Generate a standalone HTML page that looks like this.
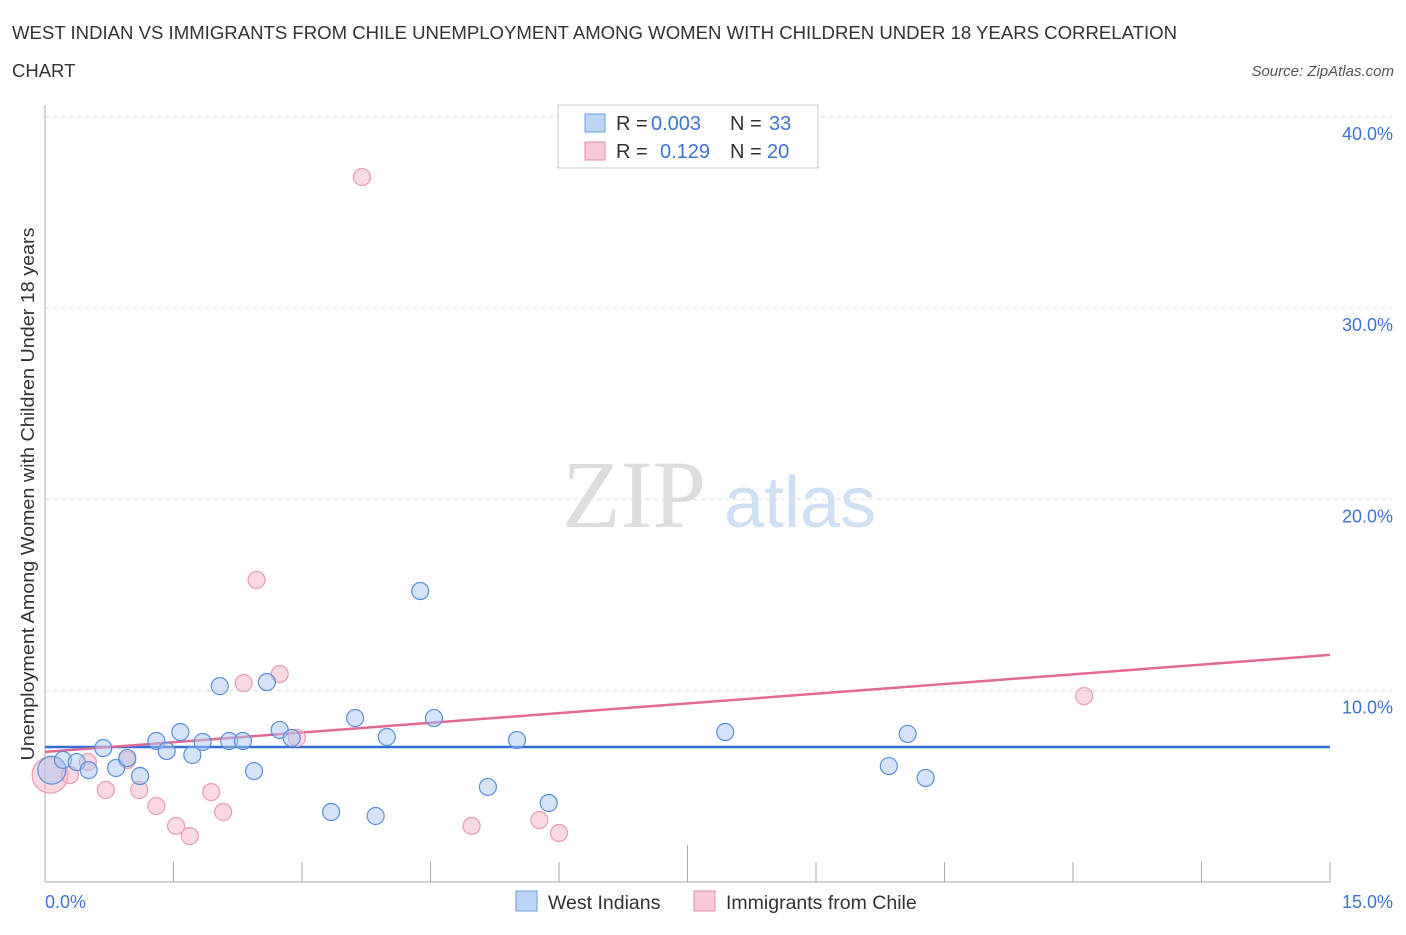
<!DOCTYPE html>
<html><head><meta charset="utf-8"><style>
body{margin:0;background:#fff;font-family:"Liberation Sans",sans-serif;}
svg text{font-family:"Liberation Sans",sans-serif;}
</style></head><body>
<svg width="1406" height="930" id="c">
<text x="12" y="39" font-size="18.5" fill="#333" textLength="1165" lengthAdjust="spacingAndGlyphs">WEST INDIAN VS IMMIGRANTS FROM CHILE UNEMPLOYMENT AMONG WOMEN WITH CHILDREN UNDER 18 YEARS CORRELATION</text>
<text x="12" y="77" font-size="18.5" fill="#333">CHART</text>
<text x="1394" y="76" font-size="15" fill="#555" font-style="italic" text-anchor="end">Source: ZipAtlas.com</text>
<text x="634" y="527" font-size="96" fill="#ddd" style="font-family:'Liberation Serif',serif" text-anchor="middle">ZIP</text>
<text x="800" y="527" font-size="72" fill="#cfe0f5" text-anchor="middle">atlas</text>
<g id="grid"></g>
<line x1="45" y1="105" x2="45" y2="882" stroke="#aaa"/>
<line x1="45" y1="882" x2="1330" y2="882" stroke="#aaa"/>
<g id="ticks"></g>
<text x="45" y="908" font-size="18" fill="#3b74d1">0.0%</text>
<text x="1393" y="908" font-size="18" fill="#3b74d1" text-anchor="end">15.0%</text>
<text transform="translate(34,494) rotate(-90)" font-size="18.5" fill="#333" text-anchor="middle" textLength="533" lengthAdjust="spacingAndGlyphs">Unemployment Among Women with Children Under 18 years</text>
<g id="lines"></g>
<g id="pts"></g>
<g>
<rect x="558" y="105" width="260" height="63" fill="#fff" stroke="#ccc"/>
<rect x="585" y="114" width="20" height="18" fill="#bcd5f5" stroke="#6a9be0"/>
<rect x="585" y="142" width="20" height="18" fill="#f9c9d8" stroke="#e58aa8"/>
<text x="616" y="130" font-size="20" fill="#333">R = <tspan fill="#3b74d1" x="651">0.003</tspan><tspan x="730">N = </tspan><tspan fill="#3b74d1" x="769">33</tspan></text>
<text x="616" y="158" font-size="20" fill="#333">R = <tspan fill="#3b74d1" x="660">0.129</tspan><tspan x="730">N = </tspan><tspan fill="#3b74d1" x="767">20</tspan></text>
</g>
<g>
<rect x="516" y="891" width="21" height="20" fill="#bcd5f5" stroke="#6a9be0"/>
<text x="548" y="909" font-size="19.5" fill="#333">West Indians</text>
<rect x="694" y="891" width="21" height="20" fill="#f9c9d8" stroke="#e58aa8"/>
<text x="726" y="909" font-size="19.5" fill="#333">Immigrants from Chile</text>
</g>
</svg>
<script>
const yTicks=[10,20,30,40];
const yTickLabels=["10.0%","20.0%","30.0%","40.0%"];
const blueX=[0.08,0.21,0.37,0.51,0.68,0.83,0.96,1.11,1.30,1.42,1.58,1.72,1.84,2.04,2.15,2.31,2.44,2.59,2.74,2.88,3.34,3.62,3.86,3.99,4.38,4.54,5.17,5.51,5.88,7.94,9.85,10.07,10.28];
const blueY=[5.85,6.38,6.27,5.85,7.0,5.96,6.48,5.54,7.37,6.85,7.84,6.64,7.32,10.24,7.37,7.37,5.8,10.45,7.95,7.53,3.66,8.57,3.45,7.58,15.21,8.57,4.97,7.42,4.13,7.84,6.06,7.74,5.44];
const pinkX=[0.06,0.29,0.50,0.71,0.96,1.10,1.30,1.53,1.69,1.94,2.08,2.32,2.47,2.74,2.94,3.70,4.98,5.77,6.0,12.13];
const pinkY=[5.59,5.59,6.27,4.81,6.38,4.81,3.97,2.93,2.4,4.7,3.66,10.4,15.79,10.87,7.53,36.85,2.93,3.24,2.56,9.72];
const blueTrend=[7.06,7.06];
const pinkTrend=[6.8,11.87];
const xs=v=>45+v*1285/15;
const ys=v=>882-v*19.13;
const NS="http://www.w3.org/2000/svg";
function mk(t,a,p){const e=document.createElementNS(NS,t);for(const k in a)e.setAttribute(k,a[k]);p.appendChild(e);return e;}
const grid=document.getElementById('grid');
yTicks.forEach((v,i)=>{
 const l=mk('line',{x1:45,x2:1392,y1:ys(v),y2:ys(v),stroke:'#ddd','stroke-dasharray':'4,4'},grid);
 
 
 const t=mk('text',{x:1393,y:ys(v)+23,'font-size':18,fill:'#3b74d1','text-anchor':'end'},grid);
 t.textContent=yTickLabels[i];
 
 
});
const ticks=document.getElementById('ticks');
for(let i=1;i<=10;i++){
 const x=xs(i*1.5);
 const l=mk('line',{x1:x,x2:x,y1:i==5?845:862,y2:882,stroke:'#aaa'},ticks);
 
 
}
const lines=document.getElementById('lines');
const bl=mk('line',{x1:xs(0),x2:xs(15),y1:ys(blueTrend[0]),y2:ys(blueTrend[1]),stroke:'#2f6fd6','stroke-width':2.5},lines);


const pl=mk('line',{x1:xs(0),x2:xs(15),y1:ys(pinkTrend[0]),y2:ys(pinkTrend[1]),stroke:'#e06a93','stroke-width':2.5},lines);


const pts=document.getElementById('pts');
pinkX.forEach((x,i)=>{
 const c=mk('circle',{cx:xs(x),cy:ys(pinkY[i]),r:i==0?18:8.5,fill:'rgba(246,180,200,0.5)',stroke:'#e99ab4','stroke-width':1.2},pts);
 
 
});
blueX.forEach((x,i)=>{
 const c=mk('circle',{cx:xs(x),cy:ys(blueY[i]),r:i==0?14:8.5,fill:'rgba(170,200,240,0.5)',stroke:'#5a8fdc','stroke-width':1.2},pts);
 
 
});
</script>
</body></html>
